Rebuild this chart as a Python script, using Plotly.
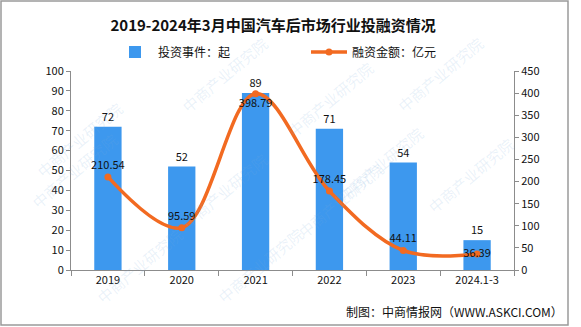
import plotly.graph_objects as go

categories = ["2019", "2020", "2021", "2022", "2023", "2024.1-3"]
deal_counts = [72, 52, 89, 71, 54, 15]
funding_amounts = [210.54, 95.59, 398.79, 178.45, 44.11, 36.39]
left_ticks = list(range(0, 101, 10))
right_ticks = list(range(0, 451, 50))

BLUE = "#3D98EE"
ORANGE = "#F26A21"
AXIS = "#8C8C8C"
FONT = "Noto Sans CJK SC"

fig = go.Figure()

fig.add_trace(go.Bar(
    x=categories, y=deal_counts, name="投资事件：起",
    marker=dict(color=BLUE, line=dict(width=0)), width=0.37,
    text=[str(v) for v in deal_counts], textposition="outside",
    textfont=dict(size=11, color="#111111", family=FONT),
    cliponaxis=False, yaxis="y",
))

label_pos = ["top center", "top center", "bottom center", "top center", "top center", "middle center"]
fig.add_trace(go.Scatter(
    x=categories, y=funding_amounts, name="融资金额：亿元",
    mode="lines+markers+text", line=dict(color=ORANGE, width=3.5, shape="spline", smoothing=1.0),
    marker=dict(color=ORANGE, size=7),
    text=[f"{v:.2f}" for v in funding_amounts], textposition=label_pos,
    textfont=dict(size=11, color="#111111", family=FONT),
    cliponaxis=False, yaxis="y2",
))

fig.update_layout(
    width=581, height=327,
    margin=dict(l=71, r=67, t=71, b=57),
    paper_bgcolor="white", plot_bgcolor="white",
    font=dict(family=FONT, size=11, color="#111111"),
    showlegend=True, bargap=0.63,
    title=dict(text="<b>2019-2024年3月中国汽车后市场行业投融资情况</b>",
               x=0.47, xanchor="center", y=0.92, yanchor="middle",
               font=dict(size=15, color="#111111", family=FONT)),
    legend=dict(orientation="h", x=(112 - 71) / 443, xanchor="left", y=(270 - 52) / 199, yanchor="middle",
                font=dict(size=12, family=FONT), itemwidth=36, traceorder="normal",
                entrywidth=143, entrywidthmode="pixels",
                bgcolor="rgba(0,0,0,0)"),
    xaxis=dict(
        type="category", showline=True, linecolor=AXIS, linewidth=1,
        ticks="outside", ticklen=5, tickcolor=AXIS, tickson="boundaries",
        showgrid=False, tickfont=dict(size=11), mirror=False,
    ),
    yaxis=dict(
        range=[0, 100], tickvals=left_ticks, showline=True, linecolor=AXIS,
        ticks="outside", ticklen=4, tickcolor=AXIS, showgrid=False,
        zeroline=False, tickfont=dict(size=11),
    ),
    yaxis2=dict(
        range=[0, 450], tickvals=right_ticks, overlaying="y", side="right",
        showline=True, linecolor=AXIS, ticks="outside", ticklen=4, tickcolor=AXIS,
        showgrid=False, zeroline=False, tickfont=dict(size=11),
    ),
)

# outer frame
fig.add_shape(type="rect", xref="paper", yref="paper",
              x0=-70 / 443, x1=(568 - 71) / 443, y0=-(325 - 270) / 199, y1=(270 - 1) / 199,
              line=dict(color="#9A9A9A", width=1.5), fillcolor="rgba(0,0,0,0)", layer="below")

# watermark
for wx, wy in [(30, 95), (175, 30), (330, 55), (490, 30), (25, 215), (175, 235), (340, 200), (520, 175), (90, 310), (260, 310), (430, 120)]:
    fig.add_annotation(text="中商产业研究院", xref="paper", yref="paper",
                       x=(wx - 71) / 443, y=(270 - wy) / 199, showarrow=False, textangle=-40,
                       font=dict(size=15, color="rgba(120,170,220,0.16)", family=FONT))

fig.add_annotation(text="制图：中商情报网（WWW.ASKCI.COM）", xref="paper", yref="paper",
                   x=(565 - 71) / 443, y=(270 - 311) / 199, xanchor="right", yanchor="middle",
                   showarrow=False, font=dict(size=12, color="#111111", family=FONT))

fig.write_html("out.html")
